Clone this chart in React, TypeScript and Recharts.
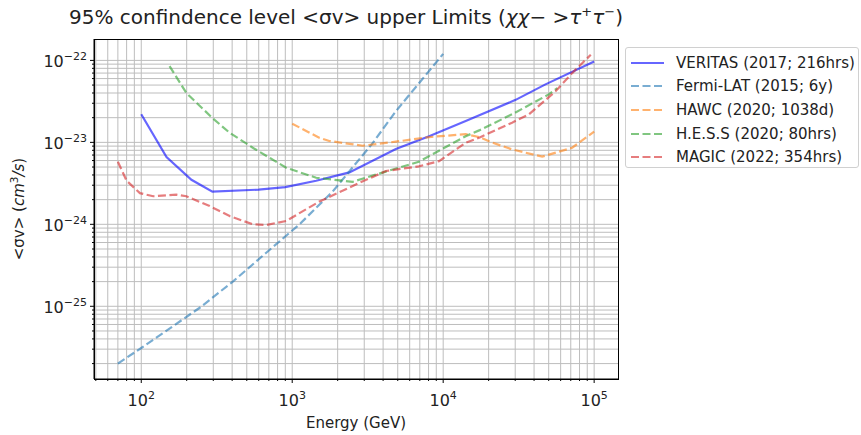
import { LineChart, Line, XAxis, YAxis, CartesianGrid, Label } from 'recharts'

// energies in GeV, <σv> in cm^3/s
const veritasE = [100, 147, 215, 296, 600, 900, 1440, 2390, 4860, 8070, 14100, 30200, 47600, 100000]
const veritasSv = [2.2e-23, 6.6e-24, 3.5e-24, 2.5e-24, 2.65e-24, 2.85e-24, 3.4e-24, 4.3e-24, 8.3e-24, 1.19e-23, 1.82e-23, 3.3e-23, 5.1e-23, 9.7e-23]

const fermiE = [70, 100, 244, 404, 673, 1117, 1850, 3400, 4860, 10000]
const fermiSv = [2.0e-26, 3.1e-26, 9.6e-26, 2.0e-25, 4.5e-25, 1.0e-24, 2.5e-24, 9.7e-24, 2.4e-23, 1.2e-22]

const hawcE = [1000, 1510, 1760, 2925, 4860, 8070, 14100, 17300, 21000, 28600, 45300, 71500, 100000]
const hawcSv = [1.69e-23, 1.14e-23, 1.04e-23, 9.1e-24, 1.02e-23, 1.16e-23, 1.26e-23, 1.16e-23, 1.0e-23, 8.2e-24, 6.7e-24, 8.6e-24, 1.35e-23]

const hessE = [154, 199, 298, 385, 548, 912, 1440, 2510, 4170, 6900, 14100, 17300, 28600, 50100, 57000]
const hessSv = [8.5e-23, 4.0e-23, 1.96e-23, 1.31e-23, 8.6e-24, 4.9e-24, 3.7e-24, 3.3e-24, 4.4e-24, 5.8e-24, 1.19e-23, 1.4e-23, 2.2e-23, 3.85e-23, 4.6e-23]

const magicE = [70, 80, 98, 120, 171, 199, 284, 385, 548, 673, 912, 1515, 2780, 4170, 6900, 9400, 14100, 17300, 28600, 37000, 55500, 71500, 95000]
const magicSv = [5.8e-24, 3.4e-24, 2.4e-24, 2.2e-24, 2.3e-24, 2.2e-24, 1.67e-24, 1.26e-24, 1.0e-24, 9.8e-25, 1.1e-24, 1.9e-24, 3.2e-24, 4.47e-24, 5.1e-24, 5.9e-24, 9.9e-24, 1.14e-23, 1.74e-23, 2.2e-23, 4.2e-23, 7.0e-23, 1.17e-22]

const seriesNames = ['VERITAS (2017; 216hrs)', 'Fermi-LAT (2015; 6y)', 'HAWC (2020; 1038d)', 'H.E.S.S (2020; 80hrs)', 'MAGIC (2022; 354hrs)']
const seriesColors = ['#0000ff', '#1f77b4', '#ff7f0e', '#2ca02c', '#d62728']

const xDecades = [10, 100, 1000, 10000, 100000]
const yDecades = [1e-27, 1e-26, 1e-25, 1e-24, 1e-23, 1e-22]
const minorSteps = [1, 2, 3, 4, 5, 6, 7, 8, 9]

const xDomain = [Math.pow(10, 1.687), Math.pow(10, 5.158)]
const yDomain = [Math.pow(10, -25.887), Math.pow(10, -21.739)]

const toPoints = (e: number[], v: number[]) => e.map((x, i) => ({ x, y: v[i] }))

const series = [
  { data: toPoints(veritasE, veritasSv), dashed: false },
  { data: toPoints(fermiE, fermiSv), dashed: true },
  { data: toPoints(hawcE, hawcSv), dashed: true },
  { data: toPoints(hessE, hessSv), dashed: true },
  { data: toPoints(magicE, magicSv), dashed: true },
]

const buildTicks = (decades: number[], domain: number[]) =>
  decades
    .flatMap((d) => minorSteps.map((m) => m * d))
    .filter((t) => t >= domain[0] && t <= domain[1])

const xTicks = buildTicks(xDecades, xDomain)
const yTicks = buildTicks(yDecades, yDomain)

const FONT = 'DejaVu Sans, sans-serif'
const TEXT = '#222'

// plot box, in px from the top-left of the chart
const PLOT = { left: 94, top: 39, width: 524, height: 340 }

function exponentOf(v: number) {
  const lg = Math.log10(v)
  const e = Math.round(lg)
  return Math.abs(lg - e) < 1e-6 ? e : null
}

const fmtExp = (e: number) => (e < 0 ? '\u2212' + Math.abs(e) : String(e))

function XTick(props: any) {
  const { x, y, payload } = props
  const e = exponentOf(payload.value)
  return (
    <g>
      <line x1={x} x2={x} y1={y} y2={y + (e !== null ? 4 : 2)} stroke="#000" strokeWidth={1} />
      {e !== null && (
        <text x={x} y={y + 27} textAnchor="middle" fontSize={16} fill={TEXT} fontFamily={FONT}>
          10
          <tspan dy={-7} fontSize={11}>
            {fmtExp(e)}
          </tspan>
        </text>
      )}
    </g>
  )
}

function YTick(props: any) {
  const { x, y, payload } = props
  const e = exponentOf(payload.value)
  return (
    <g>
      <line x1={x - (e !== null ? 4 : 2)} x2={x} y1={y} y2={y} stroke="#000" strokeWidth={1} />
      {e !== null && (
        <text x={x - 7} y={y + 7} textAnchor="end" fontSize={16} fill={TEXT} fontFamily={FONT}>
          10
          <tspan dy={-7} fontSize={11}>
            {fmtExp(e)}
          </tspan>
        </text>
      )}
    </g>
  )
}

export default function App() {
  return (
    <div style={{ position: 'absolute', left: 0, top: 0, width: 861, height: 435, background: '#fff', fontFamily: FONT }}>
      <div style={{ position: 'absolute', left: 40, width: 612, top: 4, textAlign: 'center', fontSize: 20, color: TEXT, whiteSpace: 'nowrap' }}>
        95% confindence level &lt;σv&gt; upper Limits (<i>χχ</i>− &gt;<i>τ</i>
        <sup style={{ fontSize: 13 }}>+</sup>
        <i>τ</i>
        <sup style={{ fontSize: 13 }}>−</sup>)
      </div>
      <div
        style={{
          position: 'absolute',
          left: 18,
          top: 209,
          transform: 'translate(-50%, -50%) rotate(-90deg)',
          fontSize: 15,
          color: TEXT,
          whiteSpace: 'nowrap',
        }}
      >
        &lt;σv&gt; (<i>cm</i>
        <sup style={{ fontSize: 10.5 }}>3</sup>
        <i>/s</i>)
      </div>
      <LineChart width={861} height={435} margin={{ top: PLOT.top, right: 861 - PLOT.left - PLOT.width, bottom: 26, left: PLOT.left - 60 }}>
        <CartesianGrid stroke="#bdbdbd" strokeWidth={1} syncWithTicks />
        <XAxis
          dataKey="x"
          type="number"
          scale="log"
          domain={xDomain}
          allowDataOverflow
          ticks={xTicks}
          interval={0}
          tick={<XTick />}
          tickLine={false}
          tickSize={0}
          tickMargin={0}
          height={30}
          axisLine={{ stroke: '#000', strokeWidth: 1 }}
        >
          <Label
            content={(p: any) => (
              <text
                x={p.viewBox.x + p.viewBox.width / 2}
                y={p.viewBox.y + 49}
                textAnchor="middle"
                fontSize={15}
                fill={TEXT}
                fontFamily={FONT}
              >
                Energy (GeV)
              </text>
            )}
          />
        </XAxis>
        <YAxis
          type="number"
          scale="log"
          domain={yDomain}
          allowDataOverflow
          ticks={yTicks}
          interval={0}
          tick={<YTick />}
          tickLine={false}
          tickSize={0}
          tickMargin={0}
          width={60}
          axisLine={{ stroke: '#000', strokeWidth: 1 }}
        />
        {series.map((s, i) => (
          <Line
            key={seriesNames[i]}
            data={s.data}
            dataKey="y"
            type="linear"
            stroke={seriesColors[i]}
            strokeOpacity={0.6}
            strokeWidth={2.2}
            strokeDasharray={s.dashed ? '8 3.5' : undefined}
            dot={false}
            activeDot={false}
            isAnimationActive={false}
          />
        ))}
      </LineChart>
      {/* axes frame (top and right spines) */}
      <div
        style={{
          position: 'absolute',
          left: PLOT.left,
          top: PLOT.top,
          width: PLOT.width + 1,
          height: PLOT.height + 1,
          border: '1px solid #000',
          boxSizing: 'border-box',
          pointerEvents: 'none',
        }}
      />
      <div
        style={{
          position: 'absolute',
          left: 625,
          top: 47,
          width: 234,
          height: 121,
          border: '1px solid #d0d0d0',
          borderRadius: 3,
          background: '#fff',
          boxSizing: 'border-box',
          padding: '3px 0 0 4px',
          fontSize: 15,
          color: TEXT,
        }}
      >
        {seriesNames.map((name, i) => (
          <div key={name} style={{ display: 'flex', alignItems: 'center', height: 23.6, whiteSpace: 'nowrap' }}>
            <svg width={46} height={10} style={{ flex: 'none' }}>
              <line
                x1={1}
                x2={34}
                y1={5}
                y2={5}
                stroke={seriesColors[i]}
                strokeOpacity={0.6}
                strokeWidth={2.2}
                strokeDasharray={series[i].dashed ? '8 3.5' : undefined}
              />
            </svg>
            <span>{name}</span>
          </div>
        ))}
      </div>
    </div>
  )
}
